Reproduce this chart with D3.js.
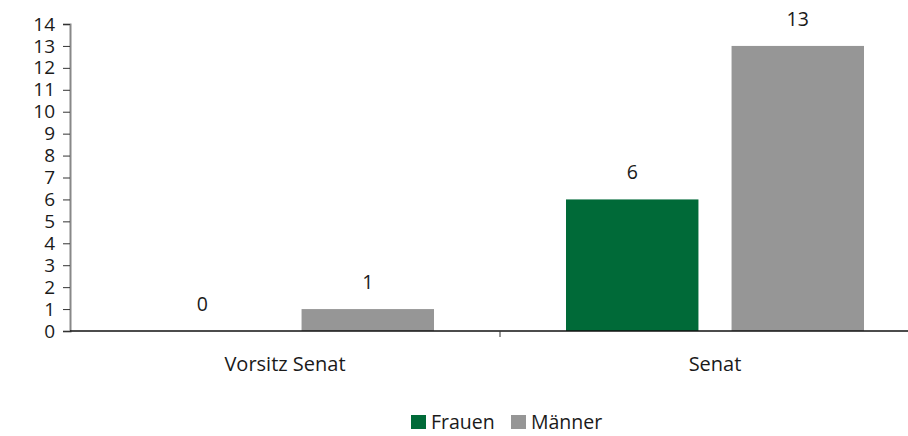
<!DOCTYPE html>
<html>
<head>
<meta charset="utf-8">
<script src="https://cdn.jsdelivr.net/npm/d3@7"></script>
<style>
	body { margin: 0; background: #fff; }
	text { font-family: "Open Sans", "Noto Sans", sans-serif; fill: #1a1a1a; }
</style>
</head>
<body>
<div id="main"></div>
<script>
	// chart data
	var categories = ["Vorsitz Senat", "Senat"]
	var seriesNames = ["Frauen", "Männer"]
	var frauen = [0, 6]
	var maenner = [1, 13]
	var yTicks = d3.range(0, 15)
	var colors = ["#006a38", "#969696"]

	var w = 908,
		h = 436,
		margin = { top: 24, left: 70, bottom: 105, right: 0 }

	var svg = d3.select("#main")
		.append("svg")
		.attr("width", w)
		.attr("height", h)

	// the band width runs past the right edge, like the original crop
	var x = d3.scaleBand()
		.domain(categories)
		.range([margin.left, margin.left + 860])

	var inner = d3.scaleBand()
		.domain(seriesNames)
		.range([66, x.bandwidth() - 66])
		.paddingInner(0.2)

	var y = d3.scaleLinear()
		.domain([0, 14])
		.range([h - margin.bottom, margin.top])

	var rows = categories.map(function(c, i) {
		return { cat: c, values: [frauen[i], maenner[i]] }
	})

	var groups = svg.selectAll(".group")
		.data(rows)
		.enter()
		.append("g")
		.attr("class", "group")
		.attr("transform", function(d) { return "translate(" + x(d.cat) + ",0)" })

	groups.selectAll("rect")
		.data(function(d) { return d.values })
		.enter()
		.append("rect")
		.attr("x", function(d, i) { return inner(seriesNames[i]) })
		.attr("y", function(d) { return y(d) })
		.attr("width", inner.bandwidth())
		.attr("height", function(d) { return y(0) - y(d) })
		.attr("fill", function(d, i) { return colors[i] })

	groups.selectAll(".val")
		.data(function(d) { return d.values })
		.enter()
		.append("text")
		.attr("class", "val")
		.attr("x", function(d, i) { return inner(seriesNames[i]) + inner.bandwidth() / 2 })
		.attr("y", function(d) { return y(d) - 20 })
		.attr("text-anchor", "middle")
		.attr("font-size", "19.5px")
		.text(function(d) { return d })

	// y axis
	var yAxis = svg.append("g")
		.attr("transform", "translate(" + margin.left + ",0)")
		.call(d3.axisLeft(y).tickValues(yTicks).tickSize(7).tickPadding(8))
	yAxis.select(".domain").attr("stroke", "#888").attr("stroke-width", 2)
	yAxis.selectAll(".tick line").attr("stroke", "#333")
	yAxis.selectAll("text").attr("font-size", "19px").attr("font-family", null).attr("fill", null)

	// x axis
	var xAxis = svg.append("g")
		.attr("transform", "translate(0," + y(0) + ")")
	xAxis.append("line")
		.attr("x1", margin.left)
		.attr("x2", w)
		.attr("stroke", "#111")
		.attr("stroke-width", 1.5)
	xAxis.selectAll(".sep")
		.data(categories.slice(1))
		.enter()
		.append("line")
		.attr("x1", function(d) { return x(d) })
		.attr("x2", function(d) { return x(d) })
		.attr("y1", 0)
		.attr("y2", 6)
		.attr("stroke", "#333")
	xAxis.selectAll(".cat")
		.data(categories)
		.enter()
		.append("text")
		.attr("x", function(d) { return x(d) + x.bandwidth() / 2 })
		.attr("y", 40)
		.attr("text-anchor", "middle")
		.attr("font-size", "20px")
		.text(function(d) { return d })

	// legend
	var legend = svg.append("g")
		.attr("transform", "translate(411,415)")
	var items = legend.selectAll(".item")
		.data(seriesNames)
		.enter()
		.append("g")
		.attr("transform", function(d, i) { return "translate(" + (i * 100) + ",0)" })
	items.append("rect")
		.attr("width", 15)
		.attr("height", 14)
		.attr("fill", function(d, i) { return colors[i] })
	items.append("text")
		.attr("x", 20)
		.attr("y", 14)
		.attr("font-size", "19.5px")
		.text(function(d) { return d })
</script>
</body>
</html>
